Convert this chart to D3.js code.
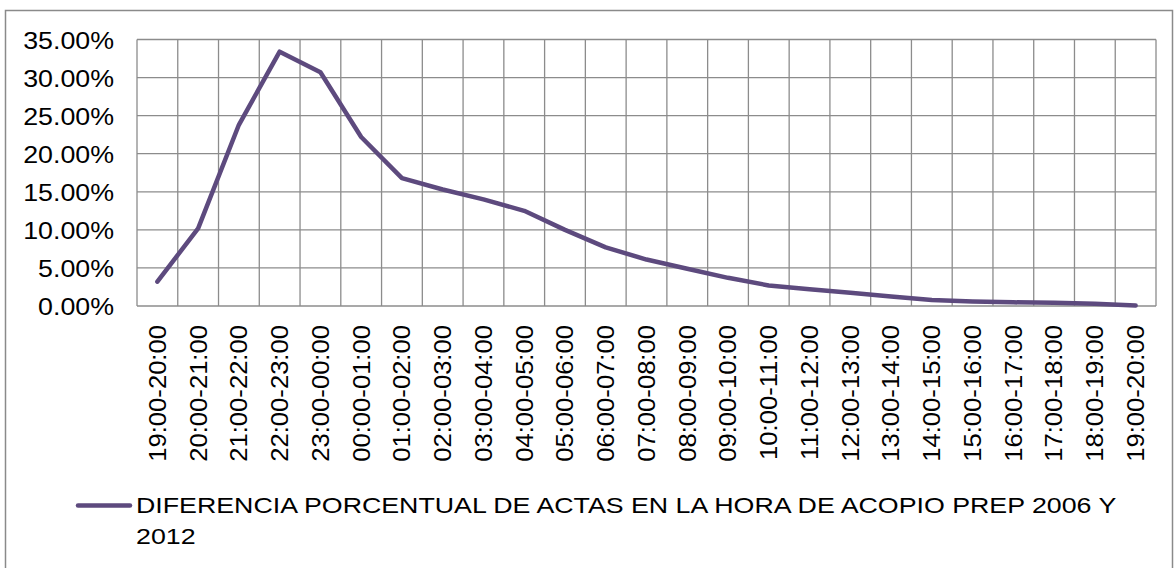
<!DOCTYPE html>
<html>
<head>
<meta charset="utf-8">
<script src="https://cdnjs.cloudflare.com/ajax/libs/d3/7.8.5/d3.min.js"></script>
<style>
  body { margin: 0; background: #fff; }
  text { font-family: "Liberation Sans", Arial, sans-serif; fill: #000; }
</style>
</head>
<body>
<svg width="1174" height="568"></svg>
<script>
// hour ranges of the PREP count
var hours = ["19:00-20:00","20:00-21:00","21:00-22:00","22:00-23:00","23:00-00:00",
  "00:00-01:00","01:00-02:00","02:00-03:00","03:00-04:00","04:00-05:00","05:00-06:00",
  "06:00-07:00","07:00-08:00","08:00-09:00","09:00-10:00","10:00-11:00","11:00-12:00",
  "12:00-13:00","13:00-14:00","14:00-15:00","15:00-16:00","16:00-17:00","17:00-18:00",
  "18:00-19:00","19:00-20:00"];

// percentage difference (as %)
var diff = [3.2, 10.2, 23.8, 33.4, 30.7, 22.2, 16.8, 15.3, 14.0, 12.5, 10.0, 7.7, 6.1,
  4.9, 3.7, 2.7, 2.2, 1.75, 1.25, 0.8, 0.6, 0.48, 0.44, 0.3, 0.05];

var yTicks = [0, 0.05, 0.10, 0.15, 0.20, 0.25, 0.30, 0.35];

var seriesName = "DIFERENCIA PORCENTUAL DE ACTAS EN LA HORA DE ACOPIO PREP 2006 Y";
var seriesName2 = "2012";

var lineColor = "#5d4a7e";

var svg = d3.select("svg"),
    margin = {top: 39.5, left: 137, right: 18, bottom: 262},
    width = +svg.attr("width") - margin.left - margin.right,
    height = +svg.attr("height") - margin.top - margin.bottom;

// outer chart border
svg.append("rect")
    .attr("x", 5.5).attr("y", 10.5)
    .attr("width", 1167).attr("height", 570)
    .attr("fill", "none")
    .attr("stroke", "#8a8a8a")
    .attr("stroke-width", 1.5);

var g = svg.append("g").attr("transform", "translate(" + margin.left + "," + margin.top + ")");

var x = d3.scaleBand()
    .domain(d3.range(hours.length))
    .range([0, width])
    .padding(0);

var y = d3.scaleLinear()
    .domain([0, 0.35])
    .range([height, 0]);

// horizontal gridlines
g.append("g")
  .selectAll("line")
  .data(yTicks)
  .enter().append("line")
    .attr("x1", 0).attr("x2", width)
    .attr("y1", function(d) { return y(d); })
    .attr("y2", function(d) { return y(d); })
    .attr("stroke", "#8c8c8c")
    .attr("stroke-width", 1.3);

// vertical gridlines at category edges
var edges = d3.range(hours.length + 1);
g.append("g")
  .selectAll("line")
  .data(edges)
  .enter().append("line")
    .attr("x1", function(i) { return i < hours.length ? x(i) : width; })
    .attr("x2", function(i) { return i < hours.length ? x(i) : width; })
    .attr("y1", 0).attr("y2", height)
    .attr("stroke", "#8c8c8c")
    .attr("stroke-width", 1.3);

// y axis labels (the source font is drawn a bit wide)
var fmt = d3.format(".2%");
g.append("g")
  .selectAll("text")
  .data(yTicks)
  .enter().append("text")
    .attr("transform", function(d) { return "translate(-23," + y(d) + ") scale(1.15,1)"; })
    .attr("dy", "0.4em")
    .attr("text-anchor", "end")
    .style("font-size", "23.3px")
    .text(function(d) { return fmt(d); });

// x axis labels (rotated)
g.append("g")
  .selectAll("text")
  .data(hours)
  .enter().append("text")
    .attr("transform", function(d, i) {
      return "translate(" + (x(i) + x.bandwidth() / 2) + "," + (height + 19) + ") scale(1,1.1) rotate(-90)";
    })
    .attr("dy", "0.36em")
    .attr("text-anchor", "end")
    .style("font-size", "23.3px")
    .text(function(d) { return d; });

// the line
var line = d3.line()
    .x(function(d, i) { return x(i) + x.bandwidth() / 2; })
    .y(function(d) { return y(d / 100); });

g.append("path")
    .datum(diff)
    .attr("d", line)
    .attr("fill", "none")
    .attr("stroke", lineColor)
    .attr("stroke-width", 4.5)
    .attr("stroke-linejoin", "round")
    .attr("stroke-linecap", "round");

// legend
var legend = svg.append("g");
legend.append("line")
    .attr("x1", 78).attr("x2", 130)
    .attr("y1", 505.5).attr("y2", 505.5)
    .attr("stroke", lineColor)
    .attr("stroke-width", 4.5)
    .attr("stroke-linecap", "round");

legend.append("text")
    .attr("transform", "translate(136,513) scale(1.2,1)")
    .style("font-size", "22.3px")
    .text(seriesName);

legend.append("text")
    .attr("transform", "translate(136,543.5) scale(1.2,1)")
    .style("font-size", "22.3px")
    .text(seriesName2);
</script>
</body>
</html>
